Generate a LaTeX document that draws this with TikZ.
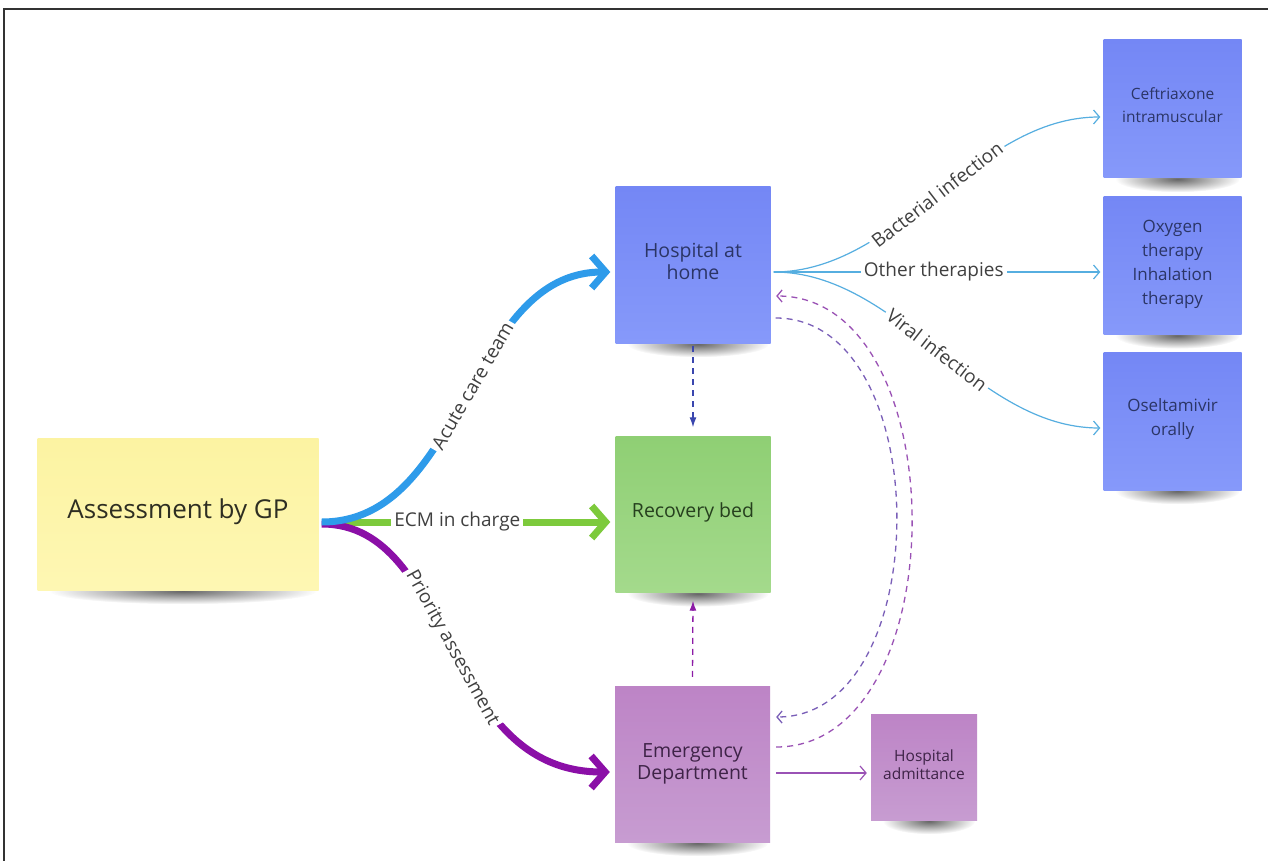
\documentclass[tikz,border=0pt]{standalone}
\usepackage{fontspec}
\setmainfont{Open Sans}
\usetikzlibrary{arrows.meta,backgrounds,calc,fadings}

\definecolor{gpTop}{HTML}{FCF3A2}
\definecolor{gpBot}{HTML}{FEF7B3}
\definecolor{blTop}{HTML}{7487F5}
\definecolor{blBot}{HTML}{8699FA}
\definecolor{grTop}{HTML}{8FCF74}
\definecolor{grBot}{HTML}{A4DA8C}
\definecolor{puTop}{HTML}{BD84C6}
\definecolor{puBot}{HTML}{C79CD1}
\definecolor{cBlue}{HTML}{2E9BEA}
\definecolor{cGreen}{HTML}{7DCA3C}
\definecolor{cPurple}{HTML}{8B0FA7}
\definecolor{cThin}{HTML}{56AEE0}
\definecolor{cDBlue}{HTML}{3A46AE}
\definecolor{cDPurp}{HTML}{8C1BA6}
\definecolor{cArc}{HTML}{9A52B5}
\definecolor{cArcB}{HTML}{7A5FB8}
\definecolor{lblGray}{HTML}{404040}
\definecolor{txBlue}{HTML}{2B3566}
\definecolor{txGreen}{HTML}{26401E}
\definecolor{txPurp}{HTML}{3E2347}
\definecolor{txYel}{HTML}{2E2E22}

\tikzfading[name=softshadow, inner color=transparent!0, outer color=transparent!100]

\begin{document}
\begin{tikzpicture}[x=1pt,y=-1pt,
  sticky/.style={inner sep=0pt},
  notetext/.style={inner sep=0pt, align=center},
  bigsq/.style={sticky, minimum width=155pt, minimum height=156pt},
  bigtxt/.style={notetext, font=\fontsize{19.5}{22}\selectfont},
  smsq/.style={sticky, minimum width=138pt, minimum height=138pt, top color=blTop, bottom color=blBot},
  smtxt/.style={notetext, font=\fontsize{17}{24}\selectfont, text=txBlue},
  bluenote/.style={top color=blTop, bottom color=blBot},
  greennote/.style={top color=grTop, bottom color=grBot},
  purplenote/.style={top color=puTop, bottom color=puBot},
  edgelbl/.style={fill=white, inner sep=3pt, text=lblGray, font=\fontsize{19}{22}\selectfont},
  thickarrow/.style={line width=7pt, -{Straight Barb[length=14pt,width=32pt]}},
  thinarrow/.style={line width=1.2pt, -{Straight Barb[length=6pt,width=14pt]}},
  dashlink/.style={line width=1.3pt, dash pattern=on 6pt off 5pt},
  noteshadow/.style={black, opacity=0.6, path fading=softshadow, fit fading=true}
]
\useasboundingbox (0,0) rectangle (1268,861);

% notes
\node[sticky, top color=gpTop, bottom color=gpBot, minimum width=281pt, minimum height=152pt] (gp) at (178,514) {};
\node[notetext, text=txYel, font=\fontsize{26}{30}\selectfont] (gpT) at ([yshift=2pt]gp.center) {Assessment by GP};

\node[bigsq, bluenote] (hah) at (693,265) {};
\node[bigtxt, text=txBlue] (hahT) at ([yshift=4pt]hah.center) {Hospital at\\home};

\node[bigsq, greennote] (rec) at (693,514.5) {};
\node[bigtxt, text=txGreen] (recT) at ([yshift=2pt]rec.center) {Recovery bed};

\node[bigsq, purplenote] (ed) at (692.5,764) {};
\node[bigtxt, text=txPurp] (edT) at (ed.center) {Emergency\\Department};

\node[sticky, purplenote, minimum width=106pt, minimum height=106pt] (adm) at (924,767) {};
\node[notetext, text=txPurp, font=\fontsize{15.5}{18}\selectfont] (admT) at ([yshift=2pt]adm.center) {Hospital\\admittance};

\node[smsq] (cef) at (1172.5,109) {};
\node[smtxt, font=\fontsize{15.5}{23}\selectfont] (cefT) at ([yshift=4pt]cef.center) {Ceftriaxone\\intramuscular};

\node[smsq] (oxy) at (1172.5,265.5) {};
\node[smtxt] (oxyT) at ([yshift=1.5pt]oxy.center) {Oxygen\\therapy\\Inhalation\\therapy};

\node[smsq] (ose) at (1172.5,421) {};
\node[smtxt] (oseT) at ([yshift=2pt]ose.center) {Oseltamivir\\orally};

% background and shadows
\begin{scope}[on background layer]
\fill[white] (0,0) rectangle (1268,861);
\foreach \nm in {gp,hah,rec,ed,adm,cef,oxy,ose}{
  \fill[noteshadow] let \p1=($(\nm.east)-(\nm.west)$) in ($(\nm.south)+(5,1)$) ellipse [x radius={0.5*\x1-7pt}, y radius=13pt];
}
\end{scope}
\draw[line width=1.3pt, black!80] (4,861) -- (4,9) -- (1268,9);

% thick arrows from GP
\draw[thickarrow, cGreen] ([xshift=3pt,yshift=-8pt]gp.east) -- node[edgelbl, pos=0.47] {ECM in charge} ([xshift=-5pt,yshift=-7.5pt]rec.west);
\draw[thickarrow, cPurple] ([xshift=3pt,yshift=-10pt]gp.east) .. controls +(133,0) and +(-170,0) .. node[edgelbl, sloped, pos=0.5] {Priority assessment} ([xshift=-5pt,yshift=-8pt]ed.west);
\draw[thickarrow, cBlue] ([xshift=3pt,yshift=-8pt]gp.east) .. controls +(144,0) and +(-144,0) .. node[edgelbl, sloped, pos=0.53] {Acute care team} ([xshift=-5pt,yshift=-7pt]hah.west);

% thin arrows from Hospital at home
\draw[thinarrow, cThin] ([xshift=3pt,yshift=-7pt]hah.east) .. controls +(125,0) and +(-125,0) .. node[edgelbl, sloped, pos=0.5] {Bacterial infection} ([xshift=-3pt,yshift=-8pt]cef.west);
\draw[thinarrow, cThin] ([xshift=3pt,yshift=-7pt]hah.east) -- node[edgelbl, pos=0.49] {Other therapies} ([xshift=-3pt,yshift=-6.5pt]oxy.west);
\draw[thinarrow, cThin] ([xshift=3pt,yshift=-7pt]hah.east) .. controls +(125,0) and +(-125,0) .. node[edgelbl, sloped, pos=0.5] {Viral infection} ([xshift=-3pt,yshift=-7pt]ose.west);

% dashed vertical links
\draw[dashlink, cDBlue, -{Latex[length=10pt,width=7pt]}] ([yshift=-3pt]hah.south) -- ([yshift=9pt]rec.north);
\draw[dashlink, cDPurp, -{Latex[length=10pt,width=7pt]}] ([yshift=9pt]ed.north) -- ([yshift=-8pt]rec.south);

% dashed arcs
\draw[dashlink, cArc, -{Straight Barb[length=5pt,width=12pt]}] ([xshift=6pt,yshift=17pt]ed.east) .. controls +(181,0) and +(181,0) .. ([xshift=5.5pt,yshift=-31pt]hah.east);
\draw[dashlink, cArcB, -{Straight Barb[length=5pt,width=12pt]}] ([xshift=5pt,yshift=-53pt]hah.east) .. controls +(161,0) and +(161,0) .. ([xshift=6pt,yshift=47pt]ed.east);

% to hospital admittance
\draw[thinarrow, cArc] ([xshift=6pt,yshift=-9pt]ed.east) -- ([xshift=-4pt,yshift=-6pt]adm.west);
\end{tikzpicture}
\end{document}
